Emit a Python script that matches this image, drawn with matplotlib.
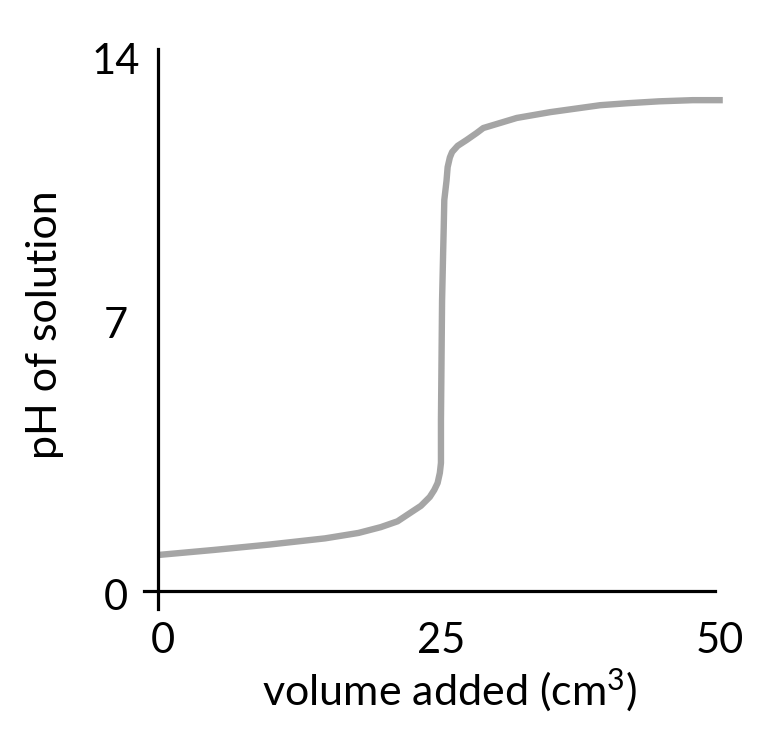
import numpy as np
import matplotlib
matplotlib.use("Agg")
import matplotlib.pyplot as plt
from matplotlib.transforms import ScaledTranslation

# titration curve
volume = [0, 5, 10, 15, 18, 20, 21.5, 22.6, 23.6, 24.4, 24.8, 25.1, 25.3, 25.4, 25.4, 25.5, 25.6, 25.65, 25.7,
          25.9, 26.0, 26.2, 26.4, 26.9, 27.7, 28.6, 29.2, 30.7, 32.2, 35.2, 39.7, 42.1, 45.0, 48.0, 50.7]
ph = [0.93, 1.06, 1.2, 1.36, 1.5, 1.65, 1.8, 2.01, 2.2, 2.43, 2.61, 2.79, 3.05, 3.31, 4.42, 7.5, 8.8, 9.4, 10.1,
      10.6, 10.95, 11.2, 11.34, 11.5, 11.65, 11.83, 11.96, 12.09, 12.22, 12.37, 12.55, 12.6, 12.65, 12.68, 12.68]

xticks = [0, 25, 50]
yticks = [0, 7, 14]

plt.rcParams['font.family'] = ['Lato', 'DejaVu Sans']
plt.rcParams['mathtext.fontset'] = 'custom'
plt.rcParams['mathtext.rm'] = 'Lato'
plt.rcParams['mathtext.default'] = 'regular'

fig = plt.figure(figsize=(7.84, 7.38), dpi=100)
W, H = 784, 738
xmin, xmax, ymin, ymax = -1.3, 51, -0.5, 14.2
left_px = 158 + xmin * 11.14
right_px = 158 + xmax * 11.14
bot_px = 591 - ymin * 38.71
top_px = 591 - ymax * 38.71
ax = fig.add_axes([left_px / W, (H - bot_px) / H, (right_px - left_px) / W, (bot_px - top_px) / H])

ax.plot(volume, ph, color='#a5a5a5', lw=4.6, solid_capstyle='butt', solid_joinstyle='round', clip_on=False)

ax.set_xlim(xmin, xmax)
ax.set_ylim(ymin, ymax)
for s in ['top', 'right']:
    ax.spines[s].set_visible(False)
ax.spines['bottom'].set_position(('data', 0))
ax.spines['left'].set_position(('data', 0))
ax.spines['bottom'].set_bounds(-1.26, 50)
ax.spines['left'].set_bounds(-0.47, 14)
for s in ['bottom', 'left']:
    ax.spines[s].set_linewidth(2.3)

ax.set_xticks(xticks)
ax.set_yticks(yticks)
ax.set_xticklabels([str(v) for v in xticks])
ax.set_yticklabels([str(v) for v in yticks])
ax.tick_params(length=0, labelsize=30)
ax.tick_params(axis='x', pad=22)
ax.tick_params(axis='y', pad=32)
for lab in ax.get_xticklabels():
    lab.set_transform(lab.get_transform() + ScaledTranslation(5 / 100, 0, fig.dpi_scale_trans))
for lab, dy in zip(ax.get_yticklabels(), [-3, -2, -9]):
    lab.set_horizontalalignment('center')
    lab.set_transform(lab.get_transform() + ScaledTranslation(2 / 100, dy / 100, fig.dpi_scale_trans))

fig.text(450 / W, 1 - 690 / H, 'volume added (cm$^3$)', fontsize=31, ha='center', va='center')
fig.text(45 / W, 1 - 325 / H, 'pH of solution', fontsize=31, ha='center', va='center', rotation=90)

fig.savefig('out.png', dpi=100)
